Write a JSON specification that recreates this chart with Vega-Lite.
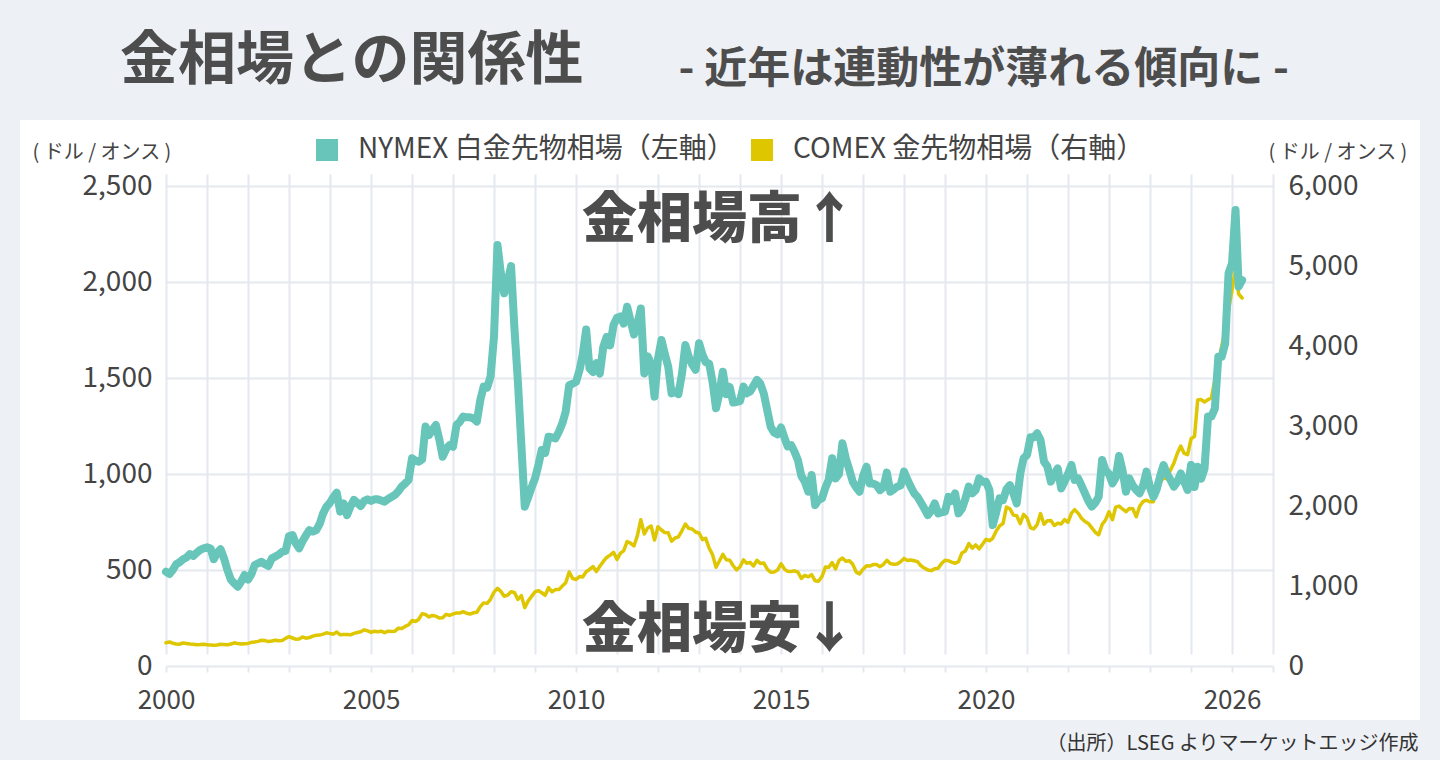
{
  "$schema": "https://vega.github.io/schema/vega-lite/v6.json",
  "width": 1400,
  "height": 600,
  "autosize": "none",
  "padding": {"left": 20, "top": 120, "right": 20, "bottom": 40},
  "background": "#EDF0F5",
  "config": {
    "font": "Noto Sans CJK JP",
    "view": {"fill": "white", "stroke": null}
  },
  "title": {
    "text": "金相場との関係性",
    "anchor": "start",
    "frame": "group",
    "dx": 100,
    "offset": -43,
    "fontSize": 58,
    "fontWeight": "bold",
    "color": "#4D4D4D"
  },
  "data": {"values": [
    {"date":"2000-01","pt":491,"au":290},{"date":"2000-02","pt":479,"au":300},{"date":"2000-03","pt":500,"au":285},{"date":"2000-04","pt":530,"au":275},{"date":"2000-05","pt":540,"au":272},{"date":"2000-06","pt":556,"au":288},{"date":"2000-07","pt":565,"au":282},{"date":"2000-08","pt":583,"au":276},{"date":"2000-09","pt":573,"au":272},{"date":"2000-10","pt":590,"au":265},{"date":"2000-11","pt":605,"au":268},{"date":"2000-12","pt":613,"au":272},
    {"date":"2001-01","pt":618,"au":265},{"date":"2001-02","pt":612,"au":262},{"date":"2001-03","pt":556,"au":260},{"date":"2001-04","pt":590,"au":262},{"date":"2001-05","pt":608,"au":272},{"date":"2001-06","pt":560,"au":270},{"date":"2001-07","pt":500,"au":266},{"date":"2001-08","pt":450,"au":274},{"date":"2001-09","pt":430,"au":290},{"date":"2001-10","pt":413,"au":280},{"date":"2001-11","pt":440,"au":275},{"date":"2001-12","pt":474,"au":278},
    {"date":"2002-01","pt":450,"au":282},{"date":"2002-02","pt":480,"au":296},{"date":"2002-03","pt":526,"au":300},{"date":"2002-04","pt":535,"au":308},{"date":"2002-05","pt":543,"au":322},{"date":"2002-06","pt":530,"au":318},{"date":"2002-07","pt":521,"au":305},{"date":"2002-08","pt":561,"au":312},{"date":"2002-09","pt":570,"au":322},{"date":"2002-10","pt":580,"au":315},{"date":"2002-11","pt":595,"au":318},{"date":"2002-12","pt":600,"au":345},
    {"date":"2003-01","pt":677,"au":367},{"date":"2003-02","pt":682,"au":350},{"date":"2003-03","pt":640,"au":335},{"date":"2003-04","pt":613,"au":338},{"date":"2003-05","pt":650,"au":362},{"date":"2003-06","pt":680,"au":348},{"date":"2003-07","pt":708,"au":355},{"date":"2003-08","pt":700,"au":374},{"date":"2003-09","pt":708,"au":385},{"date":"2003-10","pt":740,"au":386},{"date":"2003-11","pt":795,"au":398},{"date":"2003-12","pt":830,"au":415},
    {"date":"2004-01","pt":850,"au":405},{"date":"2004-02","pt":880,"au":398},{"date":"2004-03","pt":903,"au":425},{"date":"2004-04","pt":804,"au":390},{"date":"2004-05","pt":847,"au":394},{"date":"2004-06","pt":786,"au":394},{"date":"2004-07","pt":830,"au":390},{"date":"2004-08","pt":865,"au":408},{"date":"2004-09","pt":850,"au":418},{"date":"2004-10","pt":833,"au":428},{"date":"2004-11","pt":860,"au":452},{"date":"2004-12","pt":868,"au":438},
    {"date":"2005-01","pt":860,"au":422},{"date":"2005-02","pt":868,"au":434},{"date":"2005-03","pt":868,"au":428},{"date":"2005-04","pt":862,"au":435},{"date":"2005-05","pt":856,"au":416},{"date":"2005-06","pt":870,"au":436},{"date":"2005-07","pt":880,"au":430},{"date":"2005-08","pt":891,"au":434},{"date":"2005-09","pt":910,"au":473},{"date":"2005-10","pt":935,"au":470},{"date":"2005-11","pt":951,"au":495},{"date":"2005-12","pt":969,"au":513},
    {"date":"2006-01","pt":1082,"au":568},{"date":"2006-02","pt":1070,"au":556},{"date":"2006-03","pt":1064,"au":582},{"date":"2006-04","pt":1076,"au":654},{"date":"2006-05","pt":1247,"au":643},{"date":"2006-06","pt":1203,"au":613},{"date":"2006-07","pt":1230,"au":632},{"date":"2006-08","pt":1255,"au":623},{"date":"2006-09","pt":1180,"au":599},{"date":"2006-10","pt":1090,"au":604},{"date":"2006-11","pt":1130,"au":646},{"date":"2006-12","pt":1151,"au":632},
    {"date":"2007-01","pt":1142,"au":650},{"date":"2007-02","pt":1255,"au":664},{"date":"2007-03","pt":1270,"au":662},{"date":"2007-04","pt":1299,"au":679},{"date":"2007-05","pt":1295,"au":660},{"date":"2007-06","pt":1295,"au":650},{"date":"2007-07","pt":1290,"au":665},{"date":"2007-08","pt":1273,"au":672},{"date":"2007-09","pt":1385,"au":743},{"date":"2007-10","pt":1455,"au":789},{"date":"2007-11","pt":1450,"au":783},{"date":"2007-12","pt":1507,"au":834},
    {"date":"2008-01","pt":1714,"au":923},{"date":"2008-02","pt":2193,"au":971},{"date":"2008-03","pt":2050,"au":933},{"date":"2008-04","pt":1941,"au":871},{"date":"2008-05","pt":2000,"au":885},{"date":"2008-06","pt":2083,"au":928},{"date":"2008-07","pt":1760,"au":918},{"date":"2008-08","pt":1480,"au":833},{"date":"2008-09","pt":1150,"au":880},{"date":"2008-10","pt":830,"au":730},{"date":"2008-11","pt":880,"au":814},{"date":"2008-12","pt":930,"au":870},
    {"date":"2009-01","pt":978,"au":928},{"date":"2009-02","pt":1050,"au":942},{"date":"2009-03","pt":1125,"au":916},{"date":"2009-04","pt":1110,"au":884},{"date":"2009-05","pt":1194,"au":979},{"date":"2009-06","pt":1190,"au":927},{"date":"2009-07","pt":1185,"au":955},{"date":"2009-08","pt":1220,"au":955},{"date":"2009-09","pt":1264,"au":1000},{"date":"2009-10","pt":1325,"au":1040},{"date":"2009-11","pt":1463,"au":1175},{"date":"2009-12","pt":1470,"au":1096},
    {"date":"2010-01","pt":1480,"au":1081},{"date":"2010-02","pt":1541,"au":1118},{"date":"2010-03","pt":1620,"au":1113},{"date":"2010-04","pt":1753,"au":1179},{"date":"2010-05","pt":1550,"au":1207},{"date":"2010-06","pt":1531,"au":1244},{"date":"2010-07","pt":1578,"au":1181},{"date":"2010-08","pt":1523,"au":1246},{"date":"2010-09","pt":1663,"au":1307},{"date":"2010-10","pt":1714,"au":1357},{"date":"2010-11","pt":1670,"au":1386},{"date":"2010-12","pt":1776,"au":1421},
    {"date":"2011-01","pt":1814,"au":1333},{"date":"2011-02","pt":1821,"au":1411},{"date":"2011-03","pt":1783,"au":1439},{"date":"2011-04","pt":1871,"au":1556},{"date":"2011-05","pt":1800,"au":1536},{"date":"2011-06","pt":1727,"au":1500},{"date":"2011-07","pt":1780,"au":1628},{"date":"2011-08","pt":1862,"au":1829},{"date":"2011-09","pt":1524,"au":1650},{"date":"2011-10","pt":1613,"au":1725},{"date":"2011-11","pt":1575,"au":1750},{"date":"2011-12","pt":1403,"au":1575},
    {"date":"2012-01","pt":1600,"au":1740},{"date":"2012-02","pt":1698,"au":1700},{"date":"2012-03","pt":1627,"au":1668},{"date":"2012-04","pt":1560,"au":1665},{"date":"2012-05","pt":1420,"au":1560},{"date":"2012-06","pt":1428,"au":1600},{"date":"2012-07","pt":1416,"au":1615},{"date":"2012-08","pt":1520,"au":1690},{"date":"2012-09","pt":1672,"au":1775},{"date":"2012-10","pt":1610,"au":1720},{"date":"2012-11","pt":1570,"au":1712},{"date":"2012-12","pt":1543,"au":1675},
    {"date":"2013-01","pt":1681,"au":1662},{"date":"2013-02","pt":1620,"au":1580},{"date":"2013-03","pt":1583,"au":1596},{"date":"2013-04","pt":1575,"au":1472},{"date":"2013-05","pt":1480,"au":1392},{"date":"2013-06","pt":1342,"au":1234},{"date":"2013-07","pt":1420,"au":1312},{"date":"2013-08","pt":1533,"au":1395},{"date":"2013-09","pt":1416,"au":1327},{"date":"2013-10","pt":1453,"au":1323},{"date":"2013-11","pt":1372,"au":1253},{"date":"2013-12","pt":1375,"au":1202},
    {"date":"2014-01","pt":1380,"au":1240},{"date":"2014-02","pt":1455,"au":1326},{"date":"2014-03","pt":1420,"au":1284},{"date":"2014-04","pt":1430,"au":1296},{"date":"2014-05","pt":1460,"au":1250},{"date":"2014-06","pt":1490,"au":1322},{"date":"2014-07","pt":1470,"au":1282},{"date":"2014-08","pt":1418,"au":1287},{"date":"2014-09","pt":1330,"au":1210},{"date":"2014-10","pt":1246,"au":1172},{"date":"2014-11","pt":1215,"au":1175},{"date":"2014-12","pt":1207,"au":1199},
    {"date":"2015-01","pt":1242,"au":1278},{"date":"2015-02","pt":1189,"au":1212},{"date":"2015-03","pt":1144,"au":1183},{"date":"2015-04","pt":1150,"au":1182},{"date":"2015-05","pt":1116,"au":1190},{"date":"2015-06","pt":1071,"au":1172},{"date":"2015-07","pt":990,"au":1095},{"date":"2015-08","pt":960,"au":1132},{"date":"2015-09","pt":908,"au":1115},{"date":"2015-10","pt":995,"au":1142},{"date":"2015-11","pt":838,"au":1065},{"date":"2015-12","pt":865,"au":1060},
    {"date":"2016-01","pt":873,"au":1118},{"date":"2016-02","pt":930,"au":1238},{"date":"2016-03","pt":970,"au":1233},{"date":"2016-04","pt":1082,"au":1293},{"date":"2016-05","pt":977,"au":1215},{"date":"2016-06","pt":1000,"au":1320},{"date":"2016-07","pt":1160,"au":1350},{"date":"2016-08","pt":1080,"au":1309},{"date":"2016-09","pt":1021,"au":1316},{"date":"2016-10","pt":960,"au":1272},{"date":"2016-11","pt":930,"au":1173},{"date":"2016-12","pt":908,"au":1152},
    {"date":"2017-01","pt":990,"au":1210},{"date":"2017-02","pt":1038,"au":1254},{"date":"2017-03","pt":951,"au":1249},{"date":"2017-04","pt":950,"au":1268},{"date":"2017-05","pt":942,"au":1268},{"date":"2017-06","pt":916,"au":1242},{"date":"2017-07","pt":930,"au":1269},{"date":"2017-08","pt":1007,"au":1322},{"date":"2017-09","pt":908,"au":1280},{"date":"2017-10","pt":920,"au":1271},{"date":"2017-11","pt":934,"au":1275},{"date":"2017-12","pt":940,"au":1303},
    {"date":"2018-01","pt":1012,"au":1345},{"date":"2018-02","pt":970,"au":1318},{"date":"2018-03","pt":934,"au":1325},{"date":"2018-04","pt":900,"au":1315},{"date":"2018-05","pt":881,"au":1305},{"date":"2018-06","pt":850,"au":1253},{"date":"2018-07","pt":820,"au":1224},{"date":"2018-08","pt":786,"au":1201},{"date":"2018-09","pt":810,"au":1192},{"date":"2018-10","pt":847,"au":1215},{"date":"2018-11","pt":795,"au":1222},{"date":"2018-12","pt":800,"au":1282},
    {"date":"2019-01","pt":804,"au":1321},{"date":"2019-02","pt":881,"au":1316},{"date":"2019-03","pt":860,"au":1298},{"date":"2019-04","pt":899,"au":1284},{"date":"2019-05","pt":795,"au":1305},{"date":"2019-06","pt":820,"au":1413},{"date":"2019-07","pt":870,"au":1437},{"date":"2019-08","pt":934,"au":1529},{"date":"2019-09","pt":900,"au":1472},{"date":"2019-10","pt":916,"au":1513},{"date":"2019-11","pt":977,"au":1464},{"date":"2019-12","pt":960,"au":1523},
    {"date":"2020-01","pt":960,"au":1583},{"date":"2020-02","pt":916,"au":1566},{"date":"2020-03","pt":734,"au":1596},{"date":"2020-04","pt":800,"au":1687},{"date":"2020-05","pt":873,"au":1751},{"date":"2020-06","pt":864,"au":1781},{"date":"2020-07","pt":920,"au":1986},{"date":"2020-08","pt":942,"au":1966},{"date":"2020-09","pt":900,"au":1886},{"date":"2020-10","pt":847,"au":1879},{"date":"2020-11","pt":1000,"au":1780},{"date":"2020-12","pt":1082,"au":1895},
    {"date":"2021-01","pt":1100,"au":1850},{"date":"2021-02","pt":1191,"au":1728},{"date":"2021-03","pt":1190,"au":1713},{"date":"2021-04","pt":1212,"au":1768},{"date":"2021-05","pt":1177,"au":1905},{"date":"2021-06","pt":1064,"au":1771},{"date":"2021-07","pt":1040,"au":1817},{"date":"2021-08","pt":960,"au":1818},{"date":"2021-09","pt":1000,"au":1757},{"date":"2021-10","pt":1029,"au":1784},{"date":"2021-11","pt":925,"au":1776},{"date":"2021-12","pt":960,"au":1829},
    {"date":"2022-01","pt":1000,"au":1797},{"date":"2022-02","pt":1047,"au":1910},{"date":"2022-03","pt":969,"au":1954},{"date":"2022-04","pt":977,"au":1911},{"date":"2022-05","pt":940,"au":1848},{"date":"2022-06","pt":899,"au":1807},{"date":"2022-07","pt":860,"au":1782},{"date":"2022-08","pt":830,"au":1726},{"date":"2022-09","pt":850,"au":1672},{"date":"2022-10","pt":881,"au":1640},{"date":"2022-11","pt":1073,"au":1768},{"date":"2022-12","pt":1020,"au":1826},
    {"date":"2023-01","pt":1000,"au":1928},{"date":"2023-02","pt":951,"au":1828},{"date":"2023-03","pt":980,"au":1986},{"date":"2023-04","pt":1094,"au":1999},{"date":"2023-05","pt":1020,"au":1963},{"date":"2023-06","pt":908,"au":1929},{"date":"2023-07","pt":977,"au":1970},{"date":"2023-08","pt":940,"au":1966},{"date":"2023-09","pt":916,"au":1866},{"date":"2023-10","pt":900,"au":1996},{"date":"2023-11","pt":940,"au":2057},{"date":"2023-12","pt":1012,"au":2072},
    {"date":"2024-01","pt":930,"au":2053},{"date":"2024-02","pt":881,"au":2054},{"date":"2024-03","pt":920,"au":2254},{"date":"2024-04","pt":990,"au":2302},{"date":"2024-05","pt":1047,"au":2348},{"date":"2024-06","pt":1000,"au":2339},{"date":"2024-07","pt":970,"au":2448},{"date":"2024-08","pt":934,"au":2536},{"date":"2024-09","pt":960,"au":2659},{"date":"2024-10","pt":1003,"au":2749},{"date":"2024-11","pt":960,"au":2657},{"date":"2024-12","pt":917,"au":2641},
    {"date":"2025-01","pt":1047,"au":2840},{"date":"2025-02","pt":932,"au":2870},{"date":"2025-03","pt":1038,"au":3325},{"date":"2025-04","pt":976,"au":3330},{"date":"2025-05","pt":1028,"au":3300},{"date":"2025-06","pt":1299,"au":3330},{"date":"2025-07","pt":1299,"au":3350},{"date":"2025-08","pt":1340,"au":3580},{"date":"2025-09","pt":1611,"au":3780},{"date":"2025-10","pt":1611,"au":4000},{"date":"2025-11","pt":1680,"au":4200},{"date":"2025-12","pt":2045,"au":4450},
    {"date":"2026-01","pt":2097,"au":4700},{"date":"2026-02","pt":2375,"au":4950},{"date":"2026-03","pt":1976,"au":4650},{"date":"2026-04","pt":2010,"au":4600}
  ]},
  "layer": [
    {
      "mark": {"type": "line", "strokeWidth": 3.5, "strokeCap": "round", "strokeJoin": "round"},
      "encoding": {
        "x": {"field": "date", "type": "temporal",
          "scale": {"type": "utc", "domain": [{"year": 2000, "month": 1, "date": 1, "utc": true}, {"year": 2027, "month": 1, "date": 1, "utc": true}], "range": [146, 1253]},
          "axis": {"orient": "top", "labels": false, "ticks": false, "domain": false, "grid": false,
            "title": "- 近年は連動性が薄れる傾向に -", "titleX": 658, "titleY": -38, "titleAlign": "left", "titleBaseline": "alphabetic",
            "titleFontSize": 43, "titleFontWeight": "bold", "titleColor": "#4D4D4D"}},
        "y": {"field": "au", "type": "quantitative",
          "scale": {"domain": [0, 6000], "range": [546, 66], "nice": false},
          "axis": {"orient": "right", "values": [0, 1000, 2000, 3000, 4000, 5000, 6000], "format": ",d", "offset": -147,
            "domain": false, "ticks": false, "grid": false, "labelFontSize": 28, "labelColor": "#444444", "labelPadding": 15,
            "title": "( ドル / オンス )", "titleAngle": 0, "titleX": -5, "titleY": 32, "titleAlign": "left", "titleBaseline": "middle",
            "titleFontSize": 20, "titleFontWeight": "normal", "titleColor": "#444444"}},
        "color": {"datum": "COMEX 金先物相場（右軸）", "type": "nominal",
          "scale": {"domain": ["NYMEX 白金先物相場（左軸）", "COMEX 金先物相場（右軸）"], "range": ["#67C5B9", "#DEC600"]},
          "legend": {"orient": "none", "legendX": 293, "legendY": 16, "direction": "horizontal", "title": null,
            "symbolType": "square", "symbolSize": 484, "symbolStrokeWidth": 0, "labelFontSize": 28, "labelColor": "#444444",
            "labelOffset": 17, "labelLimit": 600, "columnPadding": 13, "padding": 0,
            "encode": {"symbols": {"update": {"fill": {"scale": "color", "field": "value"}, "fillOpacity": {"value": 1}, "strokeWidth": {"value": 0}}}}}}
      }
    },
    {
      "mark": {"type": "line", "strokeWidth": 8, "strokeCap": "round", "strokeJoin": "round"},
      "encoding": {
        "x": {"field": "date", "type": "temporal",
          "scale": {"type": "utc", "domain": [{"year": 2000, "month": 1, "date": 1, "utc": true}, {"year": 2027, "month": 1, "date": 1, "utc": true}], "range": [146, 1253]},
          "axis": {
            "orient": "bottom",
            "values": [{"year":2000,"utc":true},{"year":2001,"utc":true},{"year":2002,"utc":true},{"year":2003,"utc":true},{"year":2004,"utc":true},{"year":2005,"utc":true},{"year":2006,"utc":true},{"year":2007,"utc":true},{"year":2008,"utc":true},{"year":2009,"utc":true},{"year":2010,"utc":true},{"year":2011,"utc":true},{"year":2012,"utc":true},{"year":2013,"utc":true},{"year":2014,"utc":true},{"year":2015,"utc":true},{"year":2016,"utc":true},{"year":2017,"utc":true},{"year":2018,"utc":true},{"year":2019,"utc":true},{"year":2020,"utc":true},{"year":2021,"utc":true},{"year":2022,"utc":true},{"year":2023,"utc":true},{"year":2024,"utc":true},{"year":2025,"utc":true},{"year":2026,"utc":true},{"year":2027,"utc":true}],
            "labelExpr": "indexof([2000,2005,2010,2015,2020,2026], utcyear(datum.value)) >= 0 ? '' + utcyear(datum.value) : ''",
            "labelOverlap": false, "labelFlush": false, "labelFontSize": 26, "labelColor": "#444444", "labelPadding": 15,
            "domain": false, "grid": true, "gridColor": "#E4E8EF", "gridWidth": 2,
            "ticks": true, "tickColor": "#E4E8EF", "tickWidth": 2, "tickSize": 6, "offset": -54,
            "title": "（出所）LSEG よりマーケットエッジ作成", "titleX": 1398, "titleY": 77, "titleAlign": "right", "titleBaseline": "middle",
            "titleFontSize": 20, "titleFontWeight": "normal", "titleColor": "#333333"}},
        "y": {"field": "pt", "type": "quantitative",
          "scale": {"domain": [0, 2500], "range": [546, 66], "nice": false},
          "axis": {"orient": "left", "values": [0, 500, 1000, 1500, 2000, 2500], "format": ",d", "offset": -146,
            "domain": false, "ticks": false, "grid": true, "gridColor": "#E4E8EF", "gridWidth": 2,
            "labelFontSize": 28, "labelColor": "#444444", "labelPadding": 14,
            "title": "( ドル / オンス )", "titleAngle": 0, "titleX": -134, "titleY": 32, "titleAlign": "left", "titleBaseline": "middle",
            "titleFontSize": 20, "titleFontWeight": "normal", "titleColor": "#444444"}},
        "color": {"datum": "NYMEX 白金先物相場（左軸）", "type": "nominal",
          "scale": {"domain": ["NYMEX 白金先物相場（左軸）", "COMEX 金先物相場（右軸）"], "range": ["#67C5B9", "#DEC600"]}}
      }
    },
    {
      "data": {"values": [
        {"date": "2013-07", "v": 2323, "label": "金相場高↑"},
        {"date": "2013-07", "v": 190, "label": "金相場安↓"}
      ]},
      "mark": {"type": "text", "fontSize": 55, "fontWeight": 900, "color": "#4D4D4D", "align": "center", "baseline": "middle"},
      "encoding": {
        "x": {"field": "date", "type": "temporal",
          "scale": {"type": "utc", "domain": [{"year": 2000, "month": 1, "date": 1, "utc": true}, {"year": 2027, "month": 1, "date": 1, "utc": true}], "range": [146, 1253]},
          "axis": null},
        "y": {"field": "v", "type": "quantitative",
          "scale": {"domain": [0, 2500], "range": [546, 66], "nice": false},
          "axis": null},
        "text": {"field": "label"}
      }
    }
  ],
  "resolve": {"scale": {"y": "independent"}, "axis": {"x": "independent"}}
}
